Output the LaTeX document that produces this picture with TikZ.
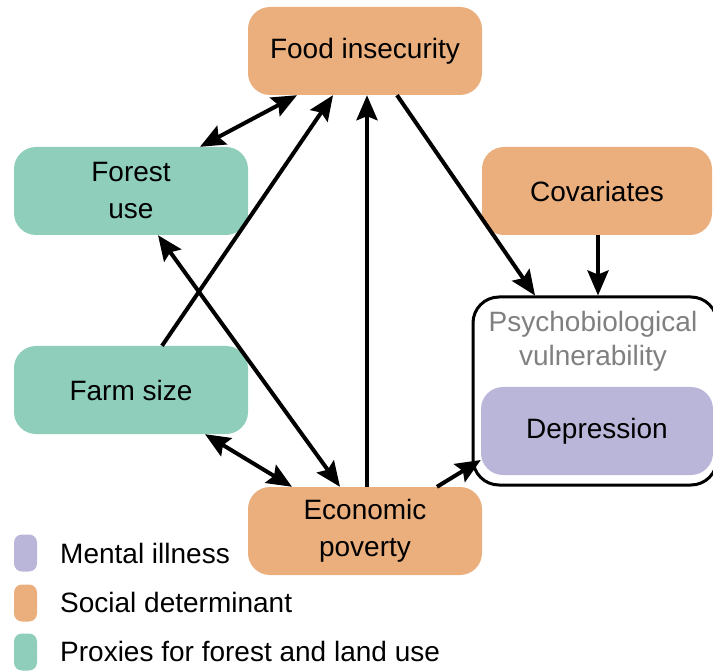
\documentclass[tikz,border=0pt]{standalone}
\usepackage{fontspec}
\setmainfont{Liberation Sans}
\usetikzlibrary{arrows.meta}
\definecolor{socialc}{RGB}{235,175,126}
\definecolor{proxyc}{RGB}{142,206,186}
\definecolor{illc}{RGB}{186,182,218}
\definecolor{vulnc}{RGB}{128,128,128}
\tikzset{
    factor/.style={rounded corners=22pt, minimum width=234pt, minimum height=88pt,
        inner sep=0pt, align=center, font=\fontsize{28}{37}\selectfont},
    social/.style={factor, fill=socialc},
    proxy/.style={factor, fill=proxyc},
    illness/.style={factor, fill=illc},
    head/.tip={Stealth[length=25pt,width=21pt,inset=4pt]},
    link/.style={line width=4pt, -head},
    twoway/.style={line width=4pt, head-head},
    keybox/.style={rounded corners=8pt, minimum width=23pt, minimum height=37pt, inner sep=0pt},
    keytext/.style={anchor=west, inner sep=0pt, font=\fontsize{28}{34}\selectfont}
}
\begin{document}
\begin{tikzpicture}[x=1pt,y=-1pt]
\useasboundingbox (0,0) rectangle (713,671);
% outcome frame
\node[draw, line width=3pt, rounded corners=26pt, minimum width=244pt, minimum height=188pt] (vuln) at (595,391) {};
\node[text=vulnc, align=center, font=\fontsize{28}{34}\selectfont] (vulntext) at (593,341) {Psychobiological\\vulnerability};
\node[illness, minimum width=232pt] (depr) at (597,431) {Depression};
% factors
\node[social] (food) at (365,51) {Food insecurity};
\node[proxy] (forest) at (131,191) {Forest\\use};
\node[social, minimum width=230pt] (cov) at (597,191) {Covariates};
\node[proxy] (farm) at (131,390) {Farm size};
\node[social] (econ) at (365,531) {Economic\\poverty};
% paths
\draw[twoway] ([xshift=69pt]forest.north) -- ([xshift=-68pt]food.south);
\draw[link] ([xshift=31pt]farm.north) -- ([xshift=-32pt]food.south);
\draw[link] ([xshift=2pt]econ.north) -- ([xshift=2pt]food.south);
\draw[link] ([xshift=32pt]food.south) -- ([xshift=-60pt]vuln.north);
\draw[link] ([xshift=1pt]cov.south) -- ([xshift=3pt]vuln.north);
\draw[twoway] ([xshift=27pt]forest.south) -- ([xshift=-25pt]econ.north);
\draw[twoway] ([xshift=74pt]farm.south) -- ([xshift=-73pt]econ.north);
\draw[link] ([xshift=72pt]econ.north) -- ([yshift=-29pt]depr.west);
% legend
\node[keybox, fill=illc] (keyill) at (25.5,553) {};
\node[keybox, fill=socialc] (keysocial) at (25.5,603) {};
\node[keybox, fill=proxyc] (keyproxy) at (25.5,652) {};
\node[keytext] (illtext) at (60,553) {Mental illness};
\node[keytext] (socialtext) at (60,602) {Social determinant};
\node[keytext] (proxytext) at (60,651) {Proxies for forest and land use};
\end{tikzpicture}
\end{document}
